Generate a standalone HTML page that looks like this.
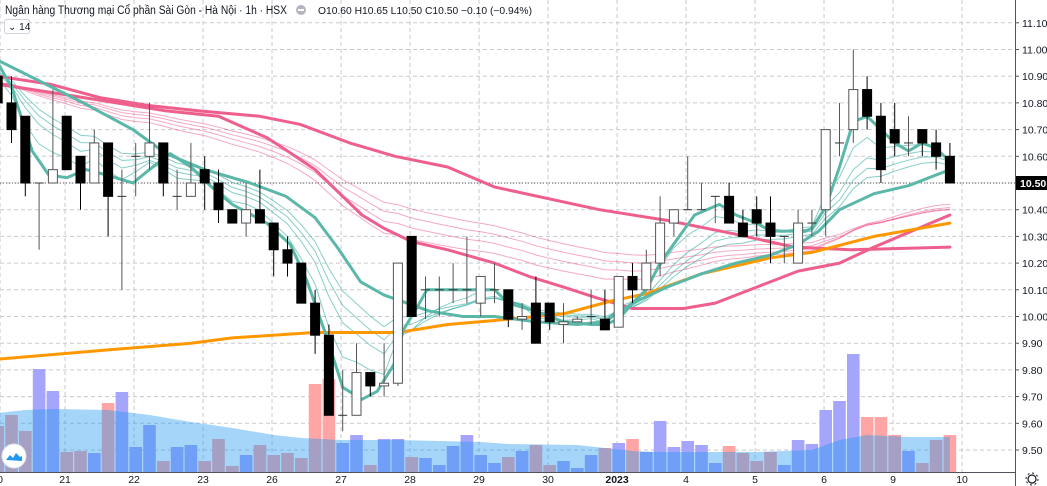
<!DOCTYPE html>
<html><head><meta charset="utf-8">
<style>
html,body{margin:0;padding:0;background:#fff;}
svg{display:block;font-family:"Liberation Sans","Noto Sans CJK SC",sans-serif;}
</style></head>
<body>
<svg id="chart" width="1047" height="486" viewBox="0 0 1047 486">
  <defs><clipPath id="plot"><rect x="0" y="0" width="1015" height="472"/></clipPath></defs>
  <g id="grid"></g>
  <g id="volArea" clip-path="url(#plot)"></g>
  <g id="lines" clip-path="url(#plot)"></g>
  <g id="candles" clip-path="url(#plot)"></g>
  <g id="axes"></g>
  <text x="5" y="14" font-size="11.5" fill="#131722" textLength="282" lengthAdjust="spacingAndGlyphs">Ngân hàng Thương mại Cổ phần Sài Gòn - Hà Nội · 1h · HSX</text>
  <circle cx="301" cy="10" r="5" fill="#b2b5be"/>
  <rect x="298" y="9" width="6" height="2" fill="#fff"/>
  <text x="318" y="14" font-size="10" fill="#131722" textLength="214" lengthAdjust="spacingAndGlyphs">O10.60 H10.65 L10.50 C10.50 −0.10 (−0.94%)</text>
  <g>
    <rect x="4.5" y="19.5" width="25" height="14" rx="2" fill="#fff" stroke="#d1d4dc"/>
    <text x="8" y="30" font-size="10" fill="#131722">⌄ 14</text>
  </g>
  <g>
    <circle cx="14" cy="456" r="12" fill="#fff" stroke="#e0e3eb"/>
    <path d="M6 460 l4 -5 l3 3 l3 -5 l4 4 l2 -1 v5 z" fill="#2196f3"/>
  </g>
  <g>
    <circle cx="1032" cy="479" r="4" fill="none" stroke="#131722" stroke-width="1.2"/>
    <circle cx="1032" cy="479" r="6" fill="none" stroke="#131722" stroke-width="1" stroke-dasharray="2 2.7"/>
  </g>
</svg>
<script>
// ---- data ----
const opens  = [10.90,10.80,10.75,10.50,10.50,10.75,10.60,10.50,10.65,10.45,10.60,10.60,10.65,10.45,10.45,10.55,10.50,10.40,10.35,10.40,10.35,10.25,10.20,10.05,9.93,9.63,9.63,9.79,9.74,9.75,10.30,10.10,10.10,10.10,10.10,10.05,10.10,10.10,9.99,10.05,10.05,9.97,9.98,10.00,9.99,9.96,10.15,10.10,10.20,10.35,10.40,10.40,10.45,10.45,10.35,10.40,10.35,10.30,10.20,10.35,10.40,10.65,10.70,10.85,10.75,10.70,10.65,10.70,10.65,10.60];
const highs  = [10.95,10.90,10.75,10.50,10.85,10.75,10.60,10.70,10.65,10.55,10.65,10.80,10.65,10.55,10.65,10.60,10.55,10.40,10.50,10.55,10.35,10.30,10.20,10.10,9.97,9.80,9.90,9.79,9.90,10.20,10.30,10.15,10.15,10.20,10.30,10.15,10.20,10.10,10.05,10.15,10.05,10.05,10.00,10.10,10.10,10.15,10.20,10.25,10.45,10.40,10.60,10.50,10.45,10.50,10.40,10.45,10.45,10.30,10.40,10.40,10.70,10.80,11.00,10.90,10.80,10.80,10.75,10.70,10.70,10.65];
const lows   = [10.80,10.65,10.45,10.25,10.50,10.55,10.40,10.50,10.30,10.10,10.45,10.55,10.45,10.40,10.45,10.40,10.35,10.35,10.30,10.35,10.15,10.15,10.05,9.86,9.63,9.57,9.63,9.70,9.70,9.74,10.00,9.99,10.00,10.05,10.05,10.00,10.05,9.96,9.95,9.90,9.95,9.90,9.98,9.97,9.95,9.96,10.05,10.10,10.15,10.30,10.40,10.40,10.35,10.35,10.30,10.30,10.20,10.20,10.20,10.30,10.30,10.60,10.65,10.70,10.50,10.60,10.60,10.60,10.55,10.50];
const closes = [10.80,10.70,10.50,10.50,10.55,10.55,10.50,10.65,10.45,10.45,10.60,10.65,10.50,10.45,10.50,10.50,10.40,10.35,10.40,10.35,10.25,10.20,10.05,9.93,9.63,9.63,9.79,9.74,9.75,10.20,10.00,10.10,10.10,10.10,10.10,10.15,10.10,9.99,10.00,9.90,9.98,9.98,9.99,10.00,9.95,10.15,10.10,10.20,10.35,10.40,10.40,10.40,10.45,10.35,10.30,10.35,10.30,10.30,10.35,10.35,10.70,10.65,10.85,10.75,10.55,10.65,10.65,10.65,10.60,10.50];
const volumes = [46,57,41,103,81,20,21,19,69,80,25,47,11,25,27,11,33,6,17,27,17,19,14,88,93,29,37,7,33,33,15,14,7,26,37,17,9,15,21,27,7,11,4,17,24,29,33,20,51,25,31,27,9,26,19,11,20,7,32,28,62,71,118,55,55,37,21,9,32,37];
const volMaIdx = [0,2,4,8,11,14,17,20,22,25,29,35,37,42,44,46,48,55,59,61,63,66,69];
const volMaVal = [59,62,63,62,57,50,44,37,34,32,32,30,28,27,24,21,20,20,22,32,37,35,35];
const tealFastIdx = [0,1,2.5,3.7,5,6.4,7.9,9.8,11,12.5,14,15.6,17,19.5,21.2,22.4,23.8,25,26.4,27.5,28.7,29.4,30.4,31.1,33,35,36,37,39,41,43,44,45,46,47,48,50.5,52.3,53.5,55,56,57,58.5,59,60,61,62,63,64,65,66,67,68,69];
const tealFastVal = [10.95,10.86,10.62,10.53,10.52,10.55,10.53,10.50,10.55,10.61,10.56,10.48,10.42,10.35,10.27,10.135,9.93,9.735,9.69,9.72,9.82,9.95,10.035,10.10,10.10,10.10,10.10,10.05,10.02,9.98,9.97,9.97,9.99,10.05,10.10,10.20,10.38,10.42,10.38,10.35,10.32,10.32,10.32,10.33,10.41,10.56,10.73,10.75,10.70,10.65,10.62,10.65,10.63,10.58];
const tealSlowIdx = [0,6.2,9.8,12.2,15,18.3,20.9,23,24.6,26.3,28,31.3,33.7,36,39,42,44,46,48.5,51,53.5,56,58,59.5,61,63.5,66,69];
const tealSlowVal = [10.96,10.80,10.70,10.61,10.55,10.50,10.45,10.37,10.26,10.13,10.08,10.02,10.00,10.00,9.98,9.97,9.98,10.05,10.11,10.16,10.20,10.23,10.27,10.32,10.40,10.46,10.49,10.55];
const pinkFastIdx = [0,5,8.6,12.2,16,19.5,21,23,24,26.4,28,30,32.6,36,38.5,41,43.4,46,49.7,52,55,58,61,63.5,69];
const pinkFastVal = [10.87,10.83,10.80,10.77,10.75,10.67,10.62,10.55,10.50,10.38,10.33,10.28,10.25,10.20,10.15,10.11,10.07,10.03,10.03,10.05,10.11,10.17,10.20,10.26,10.38];
const pinkSlowIdx = [0,3.8,7.4,11,14.6,19,21.9,25.5,28.8,32.6,36,43.6,48.5,53.3,57.7,61.8,69];
const pinkSlowVal = [10.90,10.87,10.82,10.79,10.77,10.75,10.72,10.65,10.60,10.56,10.485,10.40,10.36,10.31,10.26,10.25,10.26];
const orangeIdx = [0,8,14,17,22.9,29,32.6,36,41,44.6,47,51,56,59,63.5,69];
const orangeVal = [9.84,9.875,9.90,9.92,9.94,9.94,9.97,9.985,10.01,10.06,10.085,10.16,10.22,10.24,10.30,10.35];
const tealThinPeriods = [5,8,10,12];
const pinkThinPeriods = [35,40,45,50];
const priceTicks = [9.50,9.60,9.70,9.80,9.90,10.00,10.10,10.20,10.30,10.40,10.50,10.60,10.70,10.80,10.90,11.00,11.10];
const dateLabels = ["0","21","22","23","26","27","28","29","30","2023","4","5","6","9","10"];
const dateBarIdx = [0.17,4.88,9.88,14.88,19.88,24.88,29.88,34.88,39.88,44.88,49.88,54.88,59.88,64.88,69.88];
const lastPrice = 10.50;

// ---- scales ----
const NS = "http://www.w3.org/2000/svg";
const X = k => -2.3 + 13.8 * k;
const Y = p => 183 + (10.5 - p) * 267;
const VY = v => 472 - v;
function mk(tag, attrs, parent) {
  const e = document.createElementNS(NS, tag);
  for (const a in attrs) e.setAttribute(a, attrs[a]);
  parent.appendChild(e);
  return e;
}
const grid = document.getElementById('grid'), axes = document.getElementById('axes');
const vol = document.getElementById('volArea'), lines = document.getElementById('lines'), cg = document.getElementById('candles');

priceTicks.forEach(p => {
  const l = mk('line', {x1:0, x2:1015, y1:Y(p), y2:Y(p), stroke:'#c8cad0', 'stroke-dasharray':'4 3', 'stroke-width':1}, grid);
  
  
  const t = mk('text', {x:1022, y:Y(p)+4, 'font-size':10.5, fill:'#131722'}, axes);
  t.textContent = p.toFixed(2);
  
  
  mk('line', {x1:1015, x2:1019, y1:Y(p), y2:Y(p), stroke:'#50535e'}, axes);
});
dateBarIdx.forEach((k, i) => {
  const x = X(k);
  const l = mk('line', {x1:x, x2:x, y1:0, y2:472, stroke:'#c8cad0', 'stroke-dasharray':'4 3'}, grid);
  
  
  const t = mk('text', {x:x, y:483, 'font-size':10.5, fill:'#131722', 'text-anchor':'middle', 'font-weight': dateLabels[i]==='2023'?'bold':'normal'}, axes);
  t.textContent = dateLabels[i];
  
  
});
const lp = mk('line', {x1:0, x2:1015, y1:Y(lastPrice), y2:Y(lastPrice), stroke:'#555', 'stroke-dasharray':'1 2'}, grid);



volumes.forEach((v, k) => {
  const up = closes[k] >= opens[k];
  const r = mk('rect', {x:X(k)-6.3, y:VY(v), width:12.6, height:v, fill: up ? '#a5a5fb' : '#ffa5a5'}, vol);
  
  
});
let d = `M${X(volMaIdx[0])} 472`;
volMaIdx.forEach((k, i) => { d += ` L${X(k)} ${VY(volMaVal[i])}`; });
d += ` L${X(volMaIdx[volMaIdx.length-1])} 472 Z`;
const va = mk('path', {d, fill:'rgba(33,150,243,0.4)'}, vol);



function poly(idx, val, color, w, name) {
  const pts = idx.map((k, i) => `${X(k).toFixed(1)},${Y(val[i]).toFixed(1)}`).join(' ');
  const p = mk('polyline', {points:pts, fill:'none', stroke:color, 'stroke-width':w, 'stroke-linejoin':'round', 'stroke-linecap':'round'}, lines);
  
  
}
function ema(period, seed) {
  const a = 2 / (period + 1); let e = seed; const out = [];
  closes.forEach(c => { e = e + a * (c - e); out.push(e); });
  return out;
}
const allIdx = closes.map((c, k) => k);
pinkThinPeriods.forEach(n => poly(allIdx, ema(n, 10.88), 'rgba(236,64,122,0.45)', 1, 'pink-thin-ema'));
tealThinPeriods.forEach(n => poly(allIdx, ema(n, 10.94), 'rgba(38,166,154,0.55)', 1, 'teal-thin-ema'));
poly(pinkSlowIdx, pinkSlowVal, '#ee5f8c', 3, 'pink-slow-ema');
poly(pinkFastIdx, pinkFastVal, '#ee5f8c', 3, 'pink-fast-ema');
poly(orangeIdx, orangeVal, '#ff9800', 3, 'orange-ma');
poly(tealSlowIdx, tealSlowVal, '#5bb8a8', 3, 'teal-slow-ema');
poly(tealFastIdx, tealFastVal, '#5bb8a8', 3, 'teal-fast-ema');

closes.forEach((c, k) => {
  const o = opens[k], up = c >= o, x = X(k);
  const g = mk('g', {}, cg);
  
  
  mk('line', {x1:x, x2:x, y1:Y(highs[k]), y2:Y(lows[k]), stroke: up ? '#555' : '#000', 'stroke-width':1}, g);
  const top = Y(Math.max(o, c)), bot = Y(Math.min(o, c));
  if (bot - top < 1) {
    mk('line', {x1:x-4.5, x2:x+4.5, y1:top, y2:top, stroke:'#333', 'stroke-width':1}, g);
  } else {
    mk('rect', {x:x-4.5, y:top, width:9, height:bot-top, fill: up ? '#fff' : '#000', stroke: up ? '#555' : '#000', 'stroke-width':1}, g);
  }
});

mk('line', {x1:1015.5, x2:1015.5, y1:0, y2:486, stroke:'#50535e'}, axes);
mk('line', {x1:0, x2:1015, y1:472.5, y2:472.5, stroke:'#50535e'}, axes);
const lb = mk('rect', {x:1016, y:Y(lastPrice)-7, width:31, height:14, fill:'#000'}, axes);


const lt = mk('text', {x:1020, y:Y(lastPrice)+4, 'font-size':10.5, fill:'#fff', 'font-weight':'bold'}, axes);
lt.textContent = lastPrice.toFixed(2);
</script>
</body></html>
